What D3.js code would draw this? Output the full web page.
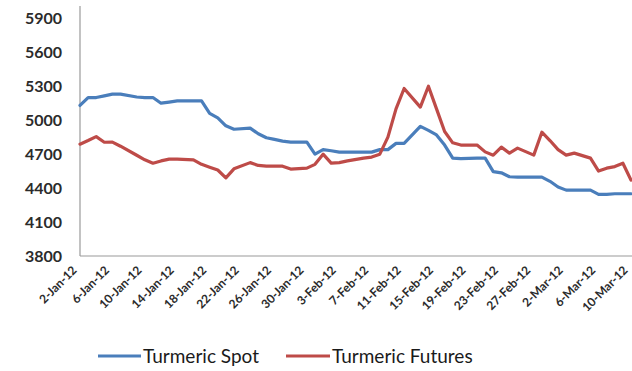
<!DOCTYPE html>
<html>
<head>
<meta charset="utf-8">
<script src="https://cdn.jsdelivr.net/npm/d3@7/dist/d3.min.js"></script>
<style>
  html, body { margin: 0; padding: 0; background: #fff; }
  svg { display: block; }
</style>
</head>
<body>
<svg id="chart" width="632" height="371"></svg>
<script>
// Trading dates (Jan–Mar 2012)
const dates = [
  "2012-01-02","2012-01-03","2012-01-04","2012-01-05","2012-01-06","2012-01-07",
  "2012-01-09","2012-01-10","2012-01-11","2012-01-12","2012-01-13","2012-01-14",
  "2012-01-16","2012-01-17","2012-01-18","2012-01-19","2012-01-20","2012-01-21",
  "2012-01-23","2012-01-24","2012-01-25","2012-01-26","2012-01-27","2012-01-28",
  "2012-01-30","2012-01-31","2012-02-01","2012-02-02","2012-02-03","2012-02-04",
  "2012-02-06","2012-02-07","2012-02-08","2012-02-09","2012-02-10","2012-02-11",
  "2012-02-13","2012-02-14","2012-02-15","2012-02-16","2012-02-17","2012-02-18",
  "2012-02-20","2012-02-21","2012-02-22","2012-02-23","2012-02-24","2012-02-25",
  "2012-02-27","2012-02-28","2012-02-29","2012-03-01","2012-03-02","2012-03-03",
  "2012-03-05","2012-03-06","2012-03-07","2012-03-08","2012-03-09","2012-03-10"
];

// Turmeric spot price (Rs/quintal)
const spot = [
  5130, 5200, 5200, 5215, 5230, 5230,
  5205, 5200, 5200, 5150, 5160, 5170,
  5170, 5170, 5060, 5020, 4950, 4920,
  4930, 4880, 4845, 4830, 4815, 4806,
  4806, 4700, 4740, 4730, 4718, 4718,
  4718, 4718, 4740, 4740, 4795, 4795,
  4945, 4910, 4870, 4780, 4665, 4660,
  4665, 4665, 4545, 4535, 4500, 4497,
  4497, 4497, 4460, 4410, 4382, 4382,
  4382, 4345, 4345, 4350, 4350, 4350
];

// Turmeric futures price (Rs/quintal)
const futures = [
  4788, 4820, 4855, 4805, 4806, 4770,
  4690, 4650, 4620, 4640, 4656, 4656,
  4650, 4610, 4585, 4560, 4490, 4570,
  4625, 4600, 4594, 4594, 4594, 4568,
  4576, 4610, 4700, 4620, 4625, 4640,
  4665, 4674, 4700, 4850, 5100, 5280,
  5115, 5300, 5100, 4900, 4800, 4780,
  4780, 4720, 4691, 4762, 4709, 4753,
  4691, 4894, 4820, 4740, 4691, 4709,
  4665, 4550, 4576, 4590, 4620, 4470
];

const seriesNames = ["Turmeric Spot", "Turmeric Futures"];
const seriesColors = ["#4a7ebb", "#be4b48"];
const yTicks = [3800, 4100, 4400, 4700, 5000, 5300, 5600, 5900];
const xTickLabels = [
  "2-Jan-12","6-Jan-12","10-Jan-12","14-Jan-12","18-Jan-12","22-Jan-12",
  "26-Jan-12","30-Jan-12","3-Feb-12","7-Feb-12","11-Feb-12","15-Feb-12",
  "19-Feb-12","23-Feb-12","27-Feb-12","2-Mar-12","6-Mar-12","10-Mar-12"
];

const parse = d3.timeParse("%Y-%m-%d");
const parseLabel = d3.timeParse("%d-%b-%y");
const fmtLabel = d3.timeFormat("%-d-%b-%y");

const svg = d3.select("#chart");
const plot = { left: 80, right: 631, top: 7, bottom: 256 };

const x = d3.scaleTime()
  .domain([parse("2012-01-02"), parse("2012-03-10")])
  .range([plot.left, plot.right]);

const y = d3.scaleLinear()
  .domain([3800, 6000])
  .range([plot.bottom, plot.top]);

// Axis lines
svg.append("line")
  .attr("x1", plot.left).attr("x2", plot.left)
  .attr("y1", y(6000) - 1).attr("y2", plot.bottom)
  .attr("stroke", "#9a9a9a").attr("stroke-width", 1.2);
svg.append("line")
  .attr("x1", plot.left).attr("x2", 632)
  .attr("y1", plot.bottom).attr("y2", plot.bottom)
  .attr("stroke", "#9a9a9a").attr("stroke-width", 1.2);

// Y axis labels
const yAxis = d3.axisLeft(y).tickValues(yTicks).tickSize(0).tickPadding(18).tickFormat(d3.format("d"));
const gy = svg.append("g").attr("transform", `translate(${plot.left},0)`).call(yAxis);
gy.select(".domain").remove();
gy.selectAll("text")
  .attr("font-family", "Lato, 'Open Sans', sans-serif")
  .attr("font-weight", "bold")
  .attr("font-size", 16)
  .attr("fill", "#2b2b2b");

// X axis labels, rotated
const xTickDates = xTickLabels.map(s => parseLabel(s));
const xAxis = d3.axisBottom(x).tickValues(xTickDates).tickSize(0).tickFormat(fmtLabel);
const gx = svg.append("g").attr("transform", `translate(0,${plot.bottom})`).call(xAxis);
gx.select(".domain").remove();
gx.selectAll("text")
  .attr("font-family", "Lato, 'Open Sans', sans-serif")
  .attr("font-weight", "bold")
  .attr("font-size", 12)
  .attr("fill", "#2b2b2b")
  .attr("text-anchor", "end")
  .attr("dy", 0)
  .attr("y", 0)
  .attr("transform", "translate(-3,15) rotate(-45)");

// Lines
const line = d3.line()
  .x(d => x(d.date))
  .y(d => y(d.value));

[spot, futures].forEach((vals, i) => {
  const data = dates.map((d, j) => ({ date: parse(d), value: vals[j] }));
  svg.append("path")
    .datum(data)
    .attr("fill", "none")
    .attr("stroke", seriesColors[i])
    .attr("stroke-width", 3.2)
    .attr("stroke-linejoin", "round")
    .attr("stroke-linecap", "round")
    .attr("d", line);
});

// Legend
const legendItems = [
  { x1: 98, x2: 141, tx: 143 },
  { x1: 286, x2: 330, tx: 332 }
];
legendItems.forEach((it, i) => {
  svg.append("line")
    .attr("x1", it.x1).attr("x2", it.x2)
    .attr("y1", 356).attr("y2", 356)
    .attr("stroke", seriesColors[i]).attr("stroke-width", 3);
  svg.append("text")
    .attr("x", it.tx).attr("y", 363)
    .attr("font-family", "Lato, 'Open Sans', sans-serif")
    .attr("font-size", 19)
    .attr("fill", "#1a1a1a")
    .text(seriesNames[i]);
});
</script>
</body>
</html>
